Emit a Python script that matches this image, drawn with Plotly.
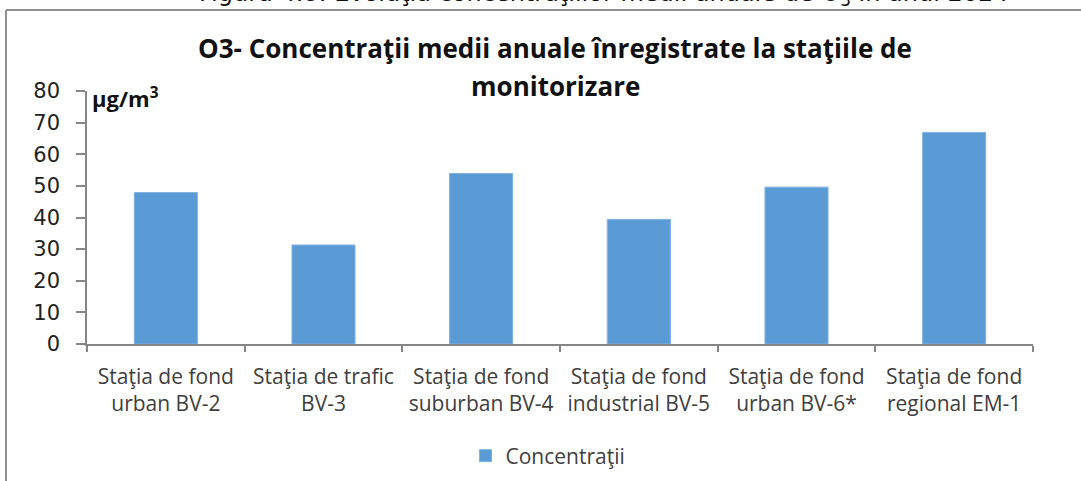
import plotly.graph_objects as go

categories = ["Staţia de fond<br>urban BV-2", "Staţia de trafic<br>BV-3", "Staţia de fond<br>suburban BV-4",
              "Staţia de fond<br>industrial BV-5", "Staţia de fond<br>urban BV-6*", "Staţia de fond<br>regional EM-1"]
values = [47.9, 31.3, 53.9, 39.4, 49.6, 66.9]
series_name = "Concentraţii"
y_ticks = [0, 10, 20, 30, 40, 50, 60, 70, 80]
title_line1 = "O3- Concentraţii medii anuale înregistrate la staţiile de"
title_line2 = "monitorizare"
unit_label = "µg/m<sup>3</sup>"
caption = "Figura 4.8: Evoluţia concentraţiilor medii anuale de O<sub>3</sub> în anul 2024"

W, H = 1081, 481
L, R, T, B = 87, 48, 91, 137
PW, PH = W - L - R, H - T - B

def px(x):
    return (x - L) / PW

def py(y):
    return (H - B - y) / PH

BODY = "'Open Sans', Lato, sans-serif"
NUM = "'DejaVu Sans', sans-serif"

fig = go.Figure()
fig.add_trace(go.Bar(
    x=categories, y=values, name=series_name,
    marker=dict(color="#5B9BD5", line=dict(color="#7FB1E0", width=1)),
    width=0.4, showlegend=True,
))

fig.update_layout(
    width=W, height=H, autosize=False,
    margin=dict(l=L, r=R, t=T, b=B, pad=0, autoexpand=False),
    paper_bgcolor="white", plot_bgcolor="white",
    showlegend=True,
    legend=dict(orientation="h", xref="container", yref="container",
                x=548 / W, xanchor="center", y=1 - 456 / H, yanchor="middle",
                font=dict(family=BODY, size=21, color="#404040"), itemwidth=30,
                bgcolor="rgba(0,0,0,0)"),
    xaxis=dict(
        type="category", showline=True, linecolor="#868686", linewidth=1.5,
        ticks="outside", tickson="boundaries", ticklen=6, tickcolor="#868686", tickwidth=1.5,
        tickfont=dict(family=BODY, size=21, color="#404040"), ticklabelstandoff=13,
        showgrid=False, zeroline=False, automargin=False,
    ),
    yaxis=dict(
        range=[0, 80], tickvals=y_ticks, showline=True, linecolor="#868686", linewidth=1.5,
        ticks="outside", ticklen=9, tickcolor="#868686", tickwidth=1.5,
        tickfont=dict(family=NUM, size=21, color="#222222"), ticklabelstandoff=12,
        showgrid=False, zeroline=False, automargin=False,
    ),
)

annotations = [
    dict(text="<b>" + title_line1 + "</b>", x=px(555), y=py(48), font=dict(family=BODY, size=26, color="#111111"),
         xanchor="center", yanchor="middle"),
    dict(text="<b>" + title_line2 + "</b>", x=px(555), y=py(86), font=dict(family=BODY, size=26, color="#111111"),
         xanchor="center", yanchor="middle"),
    dict(text="<b>" + unit_label + "</b>", x=px(90), y=py(98), font=dict(family=BODY, size=22, color="#111111"),
         xanchor="left", yanchor="middle"),
    dict(text=caption, x=px(604), y=py(-6), font=dict(family=NUM, size=24, color="#111111"),
         xanchor="center", yanchor="middle"),
]
for a in annotations:
    a.update(xref="paper", yref="paper", showarrow=False)
fig.update_layout(annotations=annotations)

fig.add_shape(type="line", xref="paper", yref="paper", x0=px(6), x1=px(1081), y0=py(10), y1=py(10),
              line=dict(color="#8f8f8f", width=2))
fig.add_shape(type="line", xref="paper", yref="paper", x0=px(6), x1=px(6), y0=py(10), y1=py(481),
              line=dict(color="#8f8f8f", width=2))

fig.write_html("out.html", config={"responsive": False, "displayModeBar": False},
               post_script="document.body.style.margin='0';")
